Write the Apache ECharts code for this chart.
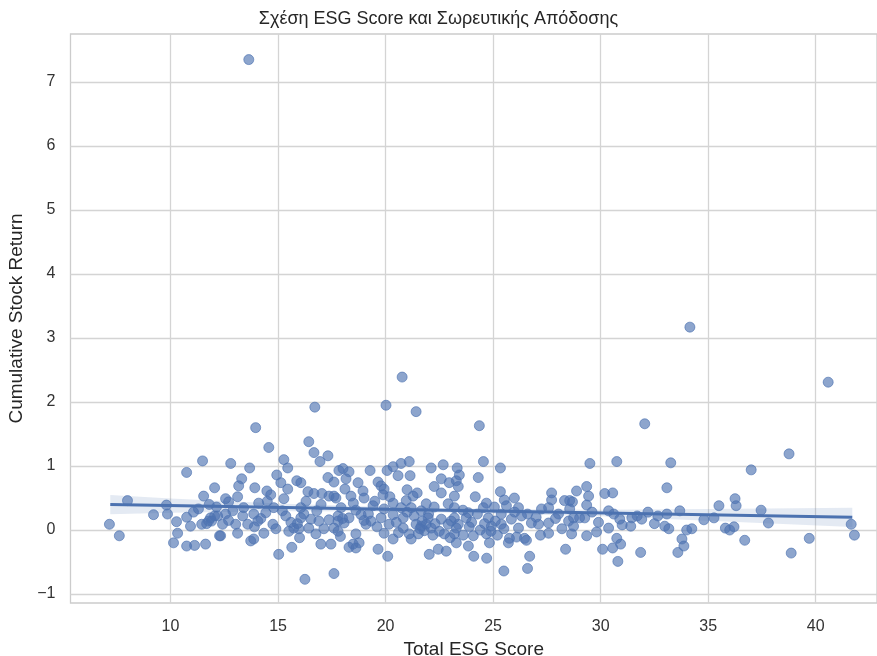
<!DOCTYPE html>
<html><head><meta charset="utf-8">
<script src="https://cdn.jsdelivr.net/npm/echarts@6/dist/echarts.min.js"></script>
<style>html,body{margin:0;padding:0;background:#fff}#c{width:877px;height:656px}</style>
</head><body><div id="c"></div>
<script>
// Points: [Total ESG Score, Cumulative Stock Return]
const pointsOutliers = [
[13.64,7.35],[34.15,3.17],[40.58,2.31],[20.77,2.39],[16.71,1.92],[20.02,1.95],[21.42,1.85],[32.05,1.66],
[24.36,1.63],[38.76,1.19],[13.96,1.60],[16.43,1.38],[14.57,1.29],[17.32,1.16],[37.0,0.94],[33.26,1.05],
[30.75,1.07],[29.5,1.04],[16.25,-0.77],[17.6,-0.68],[25.5,-0.64],[26.6,-0.60],[30.8,-0.49],[26.7,-0.41],
[15.03,-0.38],[20.1,-0.41],[24.1,-0.41],[24.7,-0.44],[38.86,-0.36],[39.7,-0.13],[41.8,-0.08],[41.65,0.09],
[36.25,0.49],[36.3,0.38],[35.5,0.38],[37.46,0.31],[37.8,0.11],[36.7,-0.16],[35.8,0.03],[36.0,0.0],
[36.2,0.05],[35.27,0.19],[34.8,0.16]
];
const pointsLeft = [
[11.49,1.08],[10.75,0.90],[12.05,0.66],[11.54,0.53],[8.0,0.46],[9.81,0.39],[9.21,0.24],[9.86,0.25],
[7.16,0.09],[7.62,-0.09],[10.28,0.13],[10.75,0.20],[10.93,0.06],[10.33,-0.05],[10.14,-0.20],[10.75,-0.25],
[11.12,-0.24],[11.63,-0.22],[11.3,0.33],[11.07,0.28],[11.45,0.09],[11.68,0.10],[11.86,0.19],[12.14,0.36],
[12.28,-0.09],[11.77,0.14],[12.05,0.22],[11.8,0.40]
];
const pointsMidLeft = [
[16.67,1.21],[16.95,1.07],[15.27,1.10],[15.45,0.97],[12.8,1.04],[13.68,0.97],[14.94,0.86],[15.13,0.74],
[15.87,0.77],[16.06,0.74],[15.45,0.64],[17.32,0.82],[17.6,0.75],[17.83,0.93],[13.31,0.80],[13.17,0.69],
[13.12,0.52],[13.92,0.66],[14.48,0.61],[14.66,0.55],[15.27,0.49],[16.39,0.60],[16.67,0.57],[17.04,0.57],
[17.37,0.53],[17.69,0.50],[12.56,0.49],[12.7,0.44],[14.1,0.42],[14.8,0.35],[16.06,0.35],[12.19,0.22],
[11.91,0.14],[12.56,0.25],[13.36,0.22],[13.87,0.25],[14.43,0.27],[15.36,0.22],[16.06,0.19],[16.53,0.17],
[16.9,0.14],[17.37,0.16],[17.79,0.14],[12.42,0.09],[13.03,0.09],[13.59,0.09],[14.06,0.14],[14.76,0.09],
[15.73,0.03],[16.43,0.03],[17.13,0.02],[12.33,-0.09],[13.12,-0.05],[13.73,-0.17],[13.87,-0.14],[14.34,-0.05],
[14.9,0.02],[15.5,-0.02],[15.97,0.02],[16.76,-0.06],[16.99,-0.22],[17.46,-0.22],[15.64,-0.27],
[15.2,0.30],[15.6,0.12],[16.2,0.25],[16.8,0.30],[17.0,0.40],[16.3,0.45],[15.9,0.10],[14.2,0.18],
[13.4,0.35],[12.9,0.30],[12.7,0.15],[13.9,0.05],[14.5,0.45],[16.0,-0.12]
];
const pointsMid = [
[18.02,0.96],[18.3,0.91],[19.28,0.93],[20.07,0.93],[20.35,0.99],[20.72,1.04],[21.1,1.07],[20.58,0.85],
[21.14,0.85],[22.12,0.97],[22.68,1.02],[23.33,0.97],[22.59,0.80],[22.96,0.74],[23.29,0.77],[22.26,0.68],
[18.16,0.80],[18.72,0.74],[18.11,0.64],[18.95,0.61],[19.65,0.75],[19.79,0.69],[19.93,0.64],[19.88,0.55],
[21.0,0.63],[21.47,0.58],[21.28,0.53],[22.59,0.58],[23.2,0.53],[17.6,0.53],[18.39,0.53],[19.0,0.50],
[20.35,0.42],[20.96,0.46],[21.89,0.41],[22.26,0.36],[22.91,0.41],[17.93,0.35],[18.62,0.31],[19.42,0.38],
[19.93,0.33],[20.72,0.35],[21.19,0.35],[21.66,0.30],[23.2,0.35],[17.79,0.22],[18.3,0.19],[18.86,0.24],
[19.32,0.14],[19.79,0.19],[20.35,0.24],[20.82,0.19],[21.33,0.22],[21.98,0.19],[22.59,0.17],[23.05,0.14],
[18.07,0.11],[19.09,0.09],[20.16,0.09],[20.82,0.03],[21.42,0.09],[21.66,0.06],[21.89,0.09],[22.12,0.03],
[22.91,0.09],[23.29,0.03],[17.6,0.03],[18.62,-0.06],[17.79,-0.02],[19.93,-0.05],[21.1,-0.06],[21.52,-0.06],
[22.73,-0.06],[18.49,-0.22],[18.77,-0.20],[20.35,-0.14],[21.19,-0.14],[18.3,-0.27],[18.62,-0.28],[19.65,-0.30],
[22.03,-0.38],[22.45,-0.30],[22.82,-0.33],
[18.5,0.42],[19.2,0.25],[19.6,0.05],[20.5,0.12],[21.0,0.28],[21.7,0.14],[22.0,0.25],[22.3,0.10],
[22.5,-0.02],[21.8,-0.01],[21.6,0.02],[22.2,-0.08],[19.0,0.15],[18.0,0.18],[17.9,-0.10],[20.6,-0.04],
[20.2,0.52],[19.5,0.45],[23.0,-0.12]
];
const pointsMidRight = [
[24.55,1.07],[25.34,0.97],[23.43,0.86],[24.31,0.82],[23.38,0.68],[24.17,0.52],[25.34,0.60],[25.99,0.50],
[25.52,0.47],[24.69,0.42],[27.72,0.58],[28.88,0.61],[28.32,0.46],[28.56,0.46],[27.72,0.47],[24.55,0.35],
[25.06,0.36],[25.62,0.38],[26.18,0.35],[27.25,0.33],[27.58,0.35],[28.56,0.33],[23.85,0.27],[24.27,0.25],
[25.38,0.25],[26.32,0.22],[28.04,0.25],[23.2,0.19],[23.75,0.19],[24.78,0.19],[25.85,0.17],[26.78,0.11],
[27.58,0.11],[28.51,0.14],[29.02,0.19],[23.38,0.09],[23.89,0.05],[24.92,0.06],[25.38,0.09],[26.18,0.03],
[27.11,0.09],[28.74,0.06],[23.2,-0.06],[23.61,-0.08],[24.08,-0.09],[24.69,-0.06],[25.76,-0.13],[26.09,-0.11],
[26.46,-0.13],[27.2,-0.08],[27.58,-0.05],[28.65,-0.06],[23.29,-0.20],[23.85,-0.25],[24.83,-0.20],[25.71,-0.20],
[26.55,-0.16],[28.37,-0.30],
[23.6,0.31],[24.0,0.12],[24.4,0.0],[24.6,0.10],[25.1,0.14],[25.5,0.02],[24.9,-0.02],[26.0,0.28],
[26.6,0.25],[27.0,0.20],[27.9,0.18],[28.2,0.02],[25.2,-0.08]
];
const pointsRight = [
[33.08,0.66],[29.35,0.68],[29.44,0.53],[29.35,0.39],[30.19,0.57],[30.56,0.58],[28.69,0.44],[28.74,0.19],
[29.26,0.19],[30.37,0.30],[30.61,0.25],[30.89,0.17],[31.45,0.19],[31.91,0.17],[32.66,0.22],[33.08,0.25],
[33.68,0.30],[29.35,-0.09],[29.81,-0.03],[30.37,0.03],[31.4,0.06],[32.98,0.06],[33.17,0.02],[34.0,0.0],
[34.24,0.02],[30.75,-0.13],[30.93,-0.22],[30.09,-0.30],[30.56,-0.28],[31.86,-0.35],[33.78,-0.14],[33.87,-0.25],
[33.59,-0.35],[29.6,0.28],[29.9,0.12],[31.0,0.08],[31.7,0.22],[32.2,0.28],[32.5,0.10]
];

// Regression line and 95% confidence band
const regX = [7.2, 41.7];
const regY = [0.398, 0.198];
const bandX = [7.2, 10, 15, 20, 25, 30, 35, 41.7];
const bandUpper = [0.548, 0.492, 0.413, 0.359, 0.330, 0.316, 0.327, 0.348];
const bandLower = [0.248, 0.272, 0.293, 0.289, 0.260, 0.216, 0.147, 0.048];

// Tick values
const xTicks = [10, 15, 20, 25, 30, 35, 40];
const yTicks = [-1, 0, 1, 2, 3, 4, 5, 6, 7];

const titleText = 'Σχέση ESG Score και Σωρευτικής Απόδοσης';
const xName = 'Total ESG Score';
const yName = 'Cumulative Stock Return';

const allPoints = [].concat(pointsOutliers, pointsLeft, pointsMidLeft, pointsMid, pointsMidRight, pointsRight);
const FONT = '"Liberation Sans", Arial, sans-serif';
const chart = echarts.init(document.getElementById('c'), null, {renderer: 'canvas'});

chart.setOption({
  animation: false,
  backgroundColor: '#ffffff',
  title: {
    text: titleText, left: 'center', top: 5,
    textStyle: {fontFamily: FONT, fontSize: 18, fontWeight: 'normal', color: '#262626'}
  },
  grid: {left: 70.5, right: 0, top: 34, bottom: 53, containLabel: false, outerBoundsMode: 'none',
    show: true, borderColor: '#cccccc', borderWidth: 1.3},
  xAxis: {
    type: 'value', min: 5.35, max: 42.85,
    name: xName, nameLocation: 'middle', nameGap: 36,
    nameTextStyle: {fontFamily: FONT, fontSize: 19, color: '#262626'},
    axisLine: {show: false}, axisTick: {show: false, customValues: xTicks},
    axisLabel: {fontFamily: FONT, fontSize: 16, color: '#333333', margin: 16, customValues: xTicks},
    splitLine: {show: true, lineStyle: {color: '#d4d4d4', width: 1.3}}
  },
  yAxis: {
    type: 'value', min: -1.14, max: 7.75,
    name: yName, nameLocation: 'middle', nameGap: 38, nameRotate: 90,
    nameTextStyle: {fontFamily: FONT, fontSize: 19, color: '#262626'},
    axisLine: {show: false}, axisTick: {show: false, customValues: yTicks},
    axisLabel: {fontFamily: FONT, fontSize: 16, color: '#333333', margin: 15, customValues: yTicks,
      formatter: v => String(v).replace('-', '\u2212')},
    splitLine: {show: true, lineStyle: {color: '#d4d4d4', width: 1.3}}
  },
  series: [
    {
      type: 'scatter', data: allPoints, symbolSize: 10, z: 2,
      itemStyle: {color: 'rgba(76,114,176,0.64)', borderColor: 'rgba(76,114,176,0.64)', borderWidth: 1, opacity: 1}
    },
    {
      type: 'custom', z: 3, data: [[bandX[0], bandUpper[0]]],
      renderItem: function (params, api) {
        const pts = [];
        for (let i = 0; i < bandX.length; i++) pts.push(api.coord([bandX[i], bandUpper[i]]));
        for (let i = bandX.length - 1; i >= 0; i--) pts.push(api.coord([bandX[i], bandLower[i]]));
        return {type: 'polygon', shape: {points: pts}, style: {fill: 'rgba(76,114,176,0.15)'}};
      }
    },
    {
      type: 'line', z: 4, symbol: 'none', data: regX.map((x, i) => [x, regY[i]]),
      lineStyle: {color: '#4c72b0', width: 3}
    }
  ]
});
</script></body></html>
